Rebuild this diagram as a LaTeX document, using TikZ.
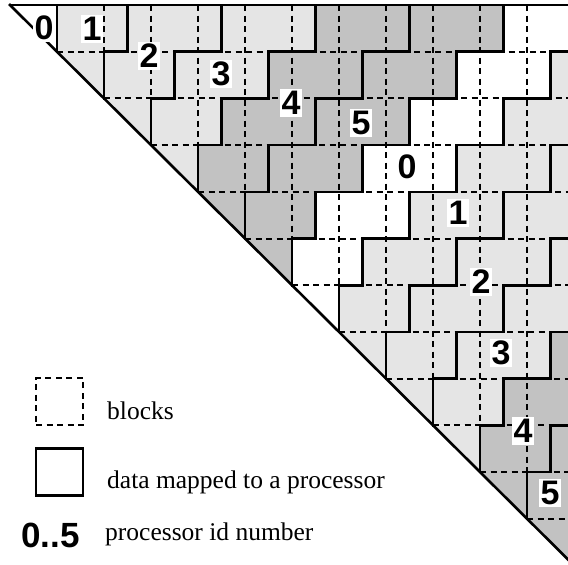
\documentclass[tikz,border=0pt]{standalone}
\usepackage{fontspec}
\setmainfont{Liberation Serif}
\newfontfamily\idfont{Liberation Sans}
% fill tones of the processor groups (id mod 6)
\definecolor{band0}{gray}{1.00}
\definecolor{band1}{gray}{0.90}
\definecolor{band2}{gray}{0.90}
\definecolor{band3}{gray}{0.90}
\definecolor{band4}{gray}{0.76}
\definecolor{band5}{gray}{0.76}
\begin{document}
\begin{tikzpicture}[x=1pt,y=-1pt,
  blockline/.style={line width=2pt, dash pattern=on 6pt off 4.5pt},
  mapline/.style={line width=2.6pt, line cap=rect},
  procid/.style={font=\idfont\bfseries\fontsize{34}{34}\selectfont, fill=white, inner sep=1.5pt, text depth=0.1em},
  legid/.style={font=\idfont\bfseries\fontsize{35}{35}\selectfont, anchor=base west, inner sep=0pt},
  legtext/.style={font=\fontsize{25.5}{30}\selectfont, anchor=base west, inner sep=0pt},
  blockgrid/.style={shift={(10,5)}, x=47pt, y=-46.7pt}]
\useasboundingbox (0,0) rectangle (568,565);

\begin{scope}
\clip (0,0) rectangle (568,565);
\begin{scope}[blockgrid]
  % shaded pieces: diagonal triangle plus staircase segments of every row
  \foreach \r in {0,...,11} {
    \pgfmathtruncatemacro\m{mod(\r,6)}
    \fill[fill=band\m] (\r,\r) -- (\r+1,\r) -- (\r+1,\r+1) -- cycle;
    \foreach \j in {0,...,6} {
      \pgfmathsetmacro\lft{\j==0 ? \r+1 : \r+0.5+2*\j}
      \pgfmathsetmacro\rgt{\r+2.5+2*\j}
      \pgfmathtruncatemacro\m{mod(\r+1+\j,6)}
      \fill[fill=band\m] (\lft,\r) rectangle (\rgt,\r+1);
    }
  }
  % block boundaries
  \foreach \c in {1,...,11} \draw[blockline] (\c,0) -- (\c,\c);
  \foreach \r in {1,...,11} \draw[blockline] (\r,\r) -- (12.5,\r);
  % outlines of the data mapped to each processor
  \draw[mapline] (0,0) -- (12.5,0);
  \draw[mapline] (0,0) -- (12.5,12.5);
  \foreach \r in {0,...,11} {
    \draw[mapline] (\r+1,\r) -- (\r+1,\r+1);
    \foreach \j in {1,...,6} {
      \draw[mapline] ({\r+0.5+2*\j},\r) -- ({\r+0.5+2*\j},\r+1);
    }
  }
  \foreach \r in {0,...,10} {
    \draw[mapline] (\r+2,\r+1) -- (\r+2.5,\r+1);
    \foreach \j in {2,...,6} {
      \draw[mapline] ({\r+2*\j-0.5},\r+1) -- ({\r+2*\j+0.5},\r+1);
    }
  }
\end{scope}
\end{scope}

% processor id numbers
\node[procid] (p0a) at (44,28) {0};
\node[procid] (p1a) at (92,29) {1};
\node[procid] (p2a) at (149,56) {2};
\node[procid] (p3a) at (221,74) {3};
\node[procid] (p4a) at (291,103) {4};
\node[procid] (p5a) at (361,123) {5};
\node[procid] (p0b) at (407,167) {0};
\node[procid] (p1b) at (458,213) {1};
\node[procid] (p2b) at (481,282) {2};
\node[procid] (p3b) at (501,353) {3};
\node[procid] (p4b) at (523,431) {4};
\node[procid] (p5b) at (550,493) {5};

% legend
\node[draw, blockline, minimum size=47pt, inner sep=0pt] (legblock) at (59.5,401.5) {};
\node[draw, line width=2.6pt, minimum size=47pt, inner sep=0pt] (legdata) at (59.5,472) {};
\node[legtext] (legblocktext) at (107,419) {blocks};
\node[legtext] (legdatatext) at (107,488) {data mapped to a processor};
\node[legid] (legid) at (21,547) {0..5};
\node[legtext] (legidtext) at (105,540) {processor id number};
\end{tikzpicture}
\end{document}
